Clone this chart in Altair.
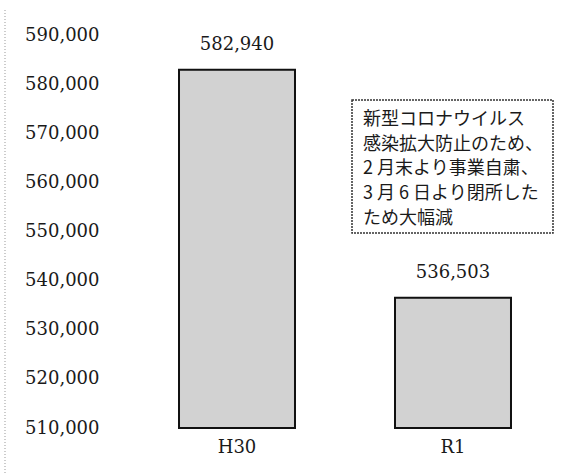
import altair as alt
import pandas as pd

# Annual usage figures
years = ["H30", "R1"]
values = [582940, 536503]
value_labels = ["582,940", "536,503"]

# Explanatory note shown in the boxed callout
note_lines = [
    "新型コロナウイルス",
    "感染拡大防止のため、",
    "2 月末より事業自粛、",
    "3 月 6 日より閉所した",
    "ため大幅減",
]

y_min, y_max = 510000, 590000
tick_values = list(range(510000, 590001, 10000))

serif = "DejaVu Serif"
ink = "#1a1a1a"

bars_df = pd.DataFrame({"year": years, "value": values, "label": value_labels, "base": [y_min] * len(years)})

x_scale = alt.Scale(paddingInner=0.463, paddingOuter=0.2315)
y_scale = alt.Scale(domain=[y_min, y_max], zero=False, nice=False)

x_axis = alt.Axis(title=None, labelAngle=0, domain=False, ticks=False, labelPadding=10)
y_axis = alt.Axis(
    title=None, values=tick_values, format=",d", grid=False, domain=False,
    ticks=False, labelPadding=30,
)

bars = alt.Chart(bars_df).mark_bar(
    fill="#d2d2d2", stroke="#111111", strokeWidth=2
).encode(
    x=alt.X("year:N", sort=years, scale=x_scale, axis=x_axis),
    y=alt.Y("value:Q", scale=y_scale, axis=y_axis),
    y2="base:Q",
)

value_text = alt.Chart(bars_df).mark_text(
    font=serif, fontSize=18, color=ink, baseline="alphabetic", dy=-20
).encode(
    x=alt.X("year:N", sort=years, scale=x_scale, axis=x_axis),
    y=alt.Y("value:Q", scale=y_scale, axis=y_axis),
    text="label:N",
)

# Callout box with dotted border
one = pd.DataFrame({"k": [0]})
note_box = alt.Chart(one).mark_rect(
    fill="white", stroke="#333333", strokeWidth=1.5, strokeDash=[2, 1]
).encode(
    x=alt.value(223), x2=alt.value(424), y=alt.value(65), y2=alt.value(198)
)

note_text = alt.Chart(one).mark_text(
    font="Noto Sans CJK JP", fontSize=18, color=ink, align="left",
    baseline="top", lineHeight=24.7,
).encode(
    x=alt.value(234), y=alt.value(76), text=alt.value(note_lines)
)

# Faint dotted guide along the left edge
edge_rule = alt.Chart(one).mark_rule(
    color="#999999", strokeWidth=1, strokeDash=[1, 2]
).encode(
    x=alt.value(-124), y=alt.value(-25), y2=alt.value(440)
)

chart = alt.layer(edge_rule, bars, value_text, note_box, note_text).properties(
    width=432,
    height=393,
    padding={"left": 129, "top": 35, "right": 25, "bottom": 47},
    autosize=alt.AutoSizeParams(type="none"),
    background="white",
).configure_view(
    strokeWidth=0
).configure_axis(
    labelFont=serif, labelFontSize=18, labelColor=ink
)

chart.save("out.html", embed_options={"renderer": "svg", "actions": False})
